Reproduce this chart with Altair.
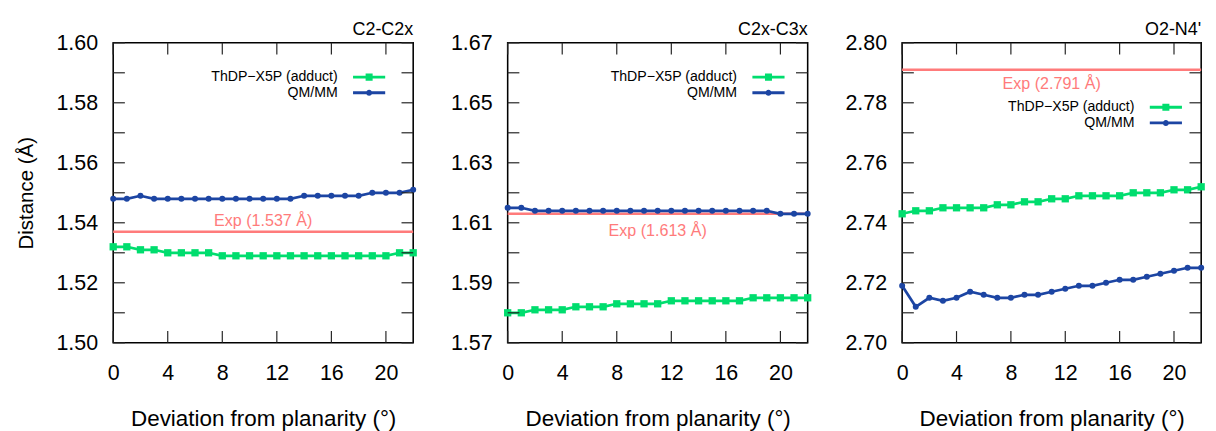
import altair as alt
import pandas as pd

FONT = "Liberation Sans"

# ---------------- data ----------------
X = list(range(23))
SERIES = ["ThDP\u2212X5P (adduct)", "QM/MM"]
COLORS = ["#00dd6e", "#1c45a3"]
EXP_COLOR = "#ff7b7b"

TITLES = ["C2-C2x", "C2x-C3x", "O2-N4'"]
EXP_VALUES = [1.537, 1.613, 2.791]
EXP_LABELS = ["Exp (1.537 \u00c5)", "Exp (1.613 \u00c5)", "Exp (2.791 \u00c5)"]

C2_ADDUCT = [1.532, 1.532, 1.531, 1.531, 1.530, 1.530, 1.530, 1.530, 1.529, 1.529,
             1.529, 1.529, 1.529, 1.529, 1.529, 1.529, 1.529, 1.529, 1.529, 1.529,
             1.529, 1.530, 1.530]
C2_QMMM = [1.548, 1.548, 1.549, 1.548, 1.548, 1.548, 1.548, 1.548, 1.548, 1.548,
           1.548, 1.548, 1.548, 1.548, 1.549, 1.549, 1.549, 1.549, 1.549, 1.550,
           1.550, 1.550, 1.551]

C3_ADDUCT = [1.580, 1.580, 1.581, 1.581, 1.581, 1.582, 1.582, 1.582, 1.583, 1.583,
             1.583, 1.583, 1.584, 1.584, 1.584, 1.584, 1.584, 1.584, 1.585, 1.585,
             1.585, 1.585, 1.585]
C3_QMMM = [1.615, 1.615, 1.614, 1.614, 1.614, 1.614, 1.614, 1.614, 1.614, 1.614,
           1.614, 1.614, 1.614, 1.614, 1.614, 1.614, 1.614, 1.614, 1.614, 1.614,
           1.613, 1.613, 1.613]

N4_ADDUCT = [2.743, 2.744, 2.744, 2.745, 2.745, 2.745, 2.745, 2.746, 2.746, 2.747,
             2.747, 2.748, 2.748, 2.749, 2.749, 2.749, 2.749, 2.750, 2.750, 2.750,
             2.751, 2.751, 2.752]
N4_QMMM = [2.719, 2.712, 2.715, 2.714, 2.715, 2.717, 2.716, 2.715, 2.715, 2.716,
           2.716, 2.717, 2.718, 2.719, 2.719, 2.720, 2.721, 2.721, 2.722, 2.723,
           2.724, 2.725, 2.725]

X_DOMAIN = [0, 22]
X_TICKS = [0, 4, 8, 12, 16, 20]
Y_DOMAINS = [[1.50, 1.60], [1.57, 1.67], [2.70, 2.80]]
Y_LABELS = [["1.50", "1.52", "1.54", "1.56", "1.58", "1.60"],
            ["1.57", "1.59", "1.61", "1.63", "1.65", "1.67"],
            ["2.70", "2.72", "2.74", "2.76", "2.78", "2.80"]]
Y_TICKS = [[1.50, 1.51, 1.52, 1.53, 1.54, 1.55, 1.56, 1.57, 1.58, 1.59, 1.60],
           [1.57, 1.58, 1.59, 1.60, 1.61, 1.62, 1.63, 1.64, 1.65, 1.66, 1.67],
           [2.70, 2.71, 2.72, 2.73, 2.74, 2.75, 2.76, 2.77, 2.78, 2.79, 2.80]]
EXP_LABEL_X = 11

# ---------------- style ----------------
PANEL_W = [308, 308, 307]
PANEL_H = 308
LABEL_DY = [-11, 18, 15]
SYM_GAP = 30  # from legend origin to start of the sample line
LEGEND_POS = [(246 - SYM_GAP, 28), (251 - SYM_GAP, 28), (254 - SYM_GAP, 59)]
TICK_LEN = 12
TICK_COLOR = "#222222"

# legend symbols (symbolSize 4 -> path units are pixels); the sample line is
# drawn to the right of the right-aligned label
LINE_PATH = "M23,-1.5L56,-1.5L56,1.5L23,1.5Z"
SQ_PATH = LINE_PATH + " M35.9,-3.6L43.1,-3.6L43.1,3.6L35.9,3.6Z"
CI_PATH = LINE_PATH + " M36.4,0A3.1,3.1,0,1,1,42.6,0A3.1,3.1,0,1,1,36.4,0Z"


def make_panel(i, adduct, qmmm):
    w = PANEL_W[i]
    df = pd.DataFrame({
        "x": X * 2,
        "y": adduct + qmmm,
        "series": [SERIES[0]] * len(X) + [SERIES[1]] * len(X),
    })
    xs = alt.Scale(domain=X_DOMAIN, nice=False, zero=False)
    ys = alt.Scale(domain=Y_DOMAINS[i], nice=False, zero=False)

    x_axis = alt.Axis(orient="bottom", values=X_TICKS, format="d", labelFontSize=22,
                      labelPadding=21, labelFont=FONT, labelColor="black",
                      labelFlush=False, labelOverlap=False,
                      title="Deviation from planarity (\u00b0)", titleFont=FONT,
                      titleFontSize=23, titleFontWeight="normal", titleColor="black",
                      titlePadding=25, ticks=False, domain=False, grid=False)
    label_list = ",".join("'%s'" % s for s in Y_LABELS[i])
    y_axis = alt.Axis(orient="left", values=Y_TICKS[i], format=".2f", labelFontSize=22,
                      labelExpr="indexof([%s], datum.label) >= 0 ? datum.label : ''" % label_list,
                      labelPadding=16, labelFont=FONT, labelColor="black",
                      labelOverlap=False,
                      title=("Distance (\u00c5)" if i == 0 else None), titleFont=FONT,
                      titleFontSize=21, titleFontWeight="normal", titleColor="black",
                      titlePadding=20, ticks=False, domain=False, grid=False)

    base = alt.Chart(df)

    # inward ticks on all four sides as ranged rules; the tick length of
    # TICK_LEN pixels is converted to data units of each scale
    x0, x1 = X_DOMAIN
    y0, y1 = Y_DOMAINS[i]
    dx = TICK_LEN * (x1 - x0) / w
    dy = TICK_LEN * (y1 - y0) / PANEL_H
    yt = Y_TICKS[i]
    htick_df = pd.DataFrame({
        "t": yt + yt,
        "a": [x0] * len(yt) + [x1 - dx] * len(yt),
        "b": [x0 + dx] * len(yt) + [x1] * len(yt),
    })
    vtick_df = pd.DataFrame({
        "t": X_TICKS + X_TICKS,
        "a": [y0] * len(X_TICKS) + [y1 - dy] * len(X_TICKS),
        "b": [y0 + dy] * len(X_TICKS) + [y1] * len(X_TICKS),
    })
    htick = alt.Chart(htick_df).mark_rule(color=TICK_COLOR, strokeWidth=1.2).encode(
        y=alt.Y("t:Q", scale=ys, axis=y_axis),
        x=alt.X("a:Q", scale=xs, axis=x_axis),
        x2="b:Q")
    vtick = alt.Chart(vtick_df).mark_rule(color=TICK_COLOR, strokeWidth=1.2).encode(
        x=alt.X("t:Q", scale=xs, axis=x_axis),
        y=alt.Y("a:Q", scale=ys, axis=y_axis),
        y2="b:Q")

    exp_df = pd.DataFrame({"x": [EXP_LABEL_X], "y": [EXP_VALUES[i]], "label": [EXP_LABELS[i]]})
    rule = alt.Chart(exp_df).mark_rule(color=EXP_COLOR, strokeWidth=2.5).encode(
        y=alt.Y("y:Q", scale=ys, axis=y_axis))
    text = alt.Chart(exp_df).mark_text(color=EXP_COLOR, fontSize=16.5, font=FONT,
                                       dy=LABEL_DY[i], align="center", baseline="middle").encode(
        x=alt.X("x:Q", scale=xs, axis=x_axis),
        y=alt.Y("y:Q", scale=ys, axis=y_axis),
        text="label:N")

    lineA = base.transform_filter(alt.datum.series == SERIES[0]).mark_line(
        color=COLORS[0], strokeWidth=2.8).encode(
        x=alt.X("x:Q", scale=xs, axis=x_axis),
        y=alt.Y("y:Q", scale=ys, axis=y_axis))
    lineB = base.transform_filter(alt.datum.series == SERIES[1]).mark_line(
        color=COLORS[1], strokeWidth=2.8).encode(
        x=alt.X("x:Q", scale=xs, axis=x_axis),
        y=alt.Y("y:Q", scale=ys, axis=y_axis))
    ptsA = base.transform_filter(alt.datum.series == SERIES[0]).mark_point(
        shape="square", filled=True, size=56, opacity=1, color=COLORS[0]).encode(
        x=alt.X("x:Q", scale=xs, axis=x_axis),
        y=alt.Y("y:Q", scale=ys, axis=y_axis))
    ptsB = base.transform_filter(alt.datum.series == SERIES[1]).mark_point(
        shape="circle", filled=True, size=38, opacity=1, color=COLORS[1]).encode(
        x=alt.X("x:Q", scale=xs, axis=x_axis),
        y=alt.Y("y:Q", scale=ys, axis=y_axis))

    lx, ly = LEGEND_POS[i]

    def leg():
        return alt.Legend(orient="none", legendX=lx, legendY=ly, title=None, padding=0,
                          rowPadding=1, symbolSize=4, symbolStrokeWidth=0, symbolOffset=0,
                          labelAlign="right", labelBaseline="middle", labelOffset=0,
                          labelFontSize=14.5, labelFont=FONT, labelColor="black")

    legend_layer = base.transform_filter("false").mark_point(filled=True, opacity=1).encode(
        color=alt.Color("series:N", scale=alt.Scale(domain=SERIES, range=COLORS), legend=leg()),
        shape=alt.Shape("series:N", scale=alt.Scale(domain=SERIES, range=[SQ_PATH, CI_PATH]),
                        legend=leg()))

    return alt.layer(rule, text, lineA, lineB, ptsA, ptsB, htick, vtick,
                     legend_layer).properties(
        width=w, height=PANEL_H,
        title=alt.TitleParams(text=TITLES[i], anchor="end", frame="group", fontSize=18.4,
                              fontWeight="normal", font=FONT, color="black", offset=-6))


panels = [
    make_panel(0, C2_ADDUCT, C2_QMMM),
    make_panel(1, C3_ADDUCT, C3_QMMM),
    make_panel(2, N4_ADDUCT, N4_QMMM),
]

chart = alt.hconcat(*panels, spacing=30).resolve_scale(
    x="independent", y="independent", color="independent", shape="independent"
).resolve_legend(color="independent", shape="independent").properties(
    padding={"left": 7, "top": 5, "right": 0, "bottom": 0},
    background="white",
).configure_view(stroke="black", strokeWidth=1.6)

chart.save("out.html", embed_options={"renderer": "svg", "actions": False})
